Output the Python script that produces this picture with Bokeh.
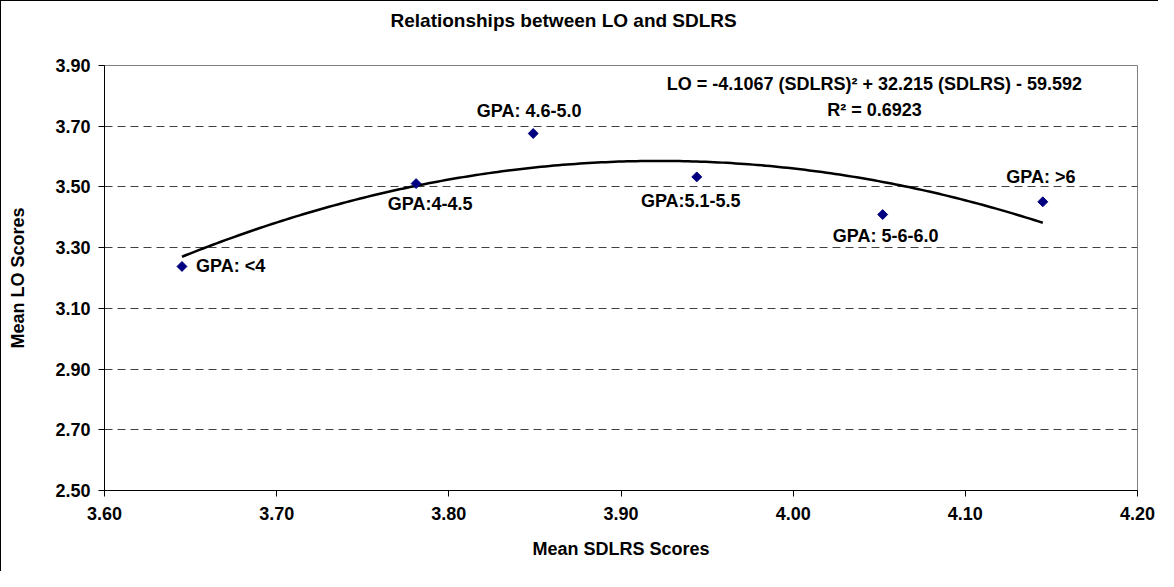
from bokeh.plotting import figure
from bokeh.models import Range1d, FixedTicker, NumeralTickFormatter, Label, ColumnDataSource, Title
from bokeh.embed import file_html
from bokeh.resources import INLINE
from bokeh.core.properties import value
import numpy as np

# ---- data ----
groups = ["GPA: <4", "GPA:4-4.5", "GPA: 4.6-5.0", "GPA:5.1-5.5", "GPA: 5-6-6.0", "GPA: >6"]
sdlrs = [3.645, 3.781, 3.849, 3.944, 4.052, 4.145]
lo = [3.238, 3.511, 3.676, 3.533, 3.409, 3.451]
trend_coef = [-4.1067, 32.215, -59.592]   # quadratic trendline as stated in the chart
r_squared = 0.6923
x_ticks = [3.60, 3.70, 3.80, 3.90, 4.00, 4.10, 4.20]
y_ticks = [2.50, 2.70, 2.90, 3.10, 3.30, 3.50, 3.70, 3.90]
title_text = "Relationships between LO and SDLRS"

FONT = "Liberation Sans"

p = figure(width=1158, height=571, output_backend="svg", toolbar_location=None,
           x_range=Range1d(3.60, 4.20), y_range=Range1d(2.50, 3.90),
           min_border_left=103, min_border_right=22, min_border_top=64, min_border_bottom=82)
p.styles = {"border-top": "1px solid #000", "border-left": "1px solid #000"}
p.outline_line_color = "#808080"
p.outline_line_width = 1

# spacer between frame and title
p.add_layout(Title(text=" ", text_font_size="12px", standoff=19), "above")

# title
p.title.text = title_text
p.title.align = "left"
p.title.offset = 286
p.title.standoff = 0
p.title.text_font = FONT
p.title.text_font_style = "bold"
p.title.text_font_size = "19px"
p.title.text_color = "#000000"

# axes
for ax in (p.xaxis[0], p.yaxis[0]):
    ax.axis_line_color = "#000000"
    ax.axis_line_width = 1
    ax.major_tick_line_color = "#000000"
    ax.major_tick_in = 0
    ax.major_tick_out = 6
    ax.minor_tick_line_color = None
    ax.major_label_text_font = FONT
    ax.major_label_text_font_style = "bold"
    ax.major_label_text_font_size = "18px"
    ax.major_label_text_color = "#000000"
    ax.axis_label_text_font = FONT
    ax.axis_label_text_font_style = "bold"
    ax.axis_label_text_font_size = "18px"
    ax.axis_label_text_color = "#000000"
    ax.formatter = NumeralTickFormatter(format="0.00")

p.xaxis.ticker = FixedTicker(ticks=x_ticks)
p.yaxis.ticker = FixedTicker(ticks=y_ticks)
p.xaxis.axis_label = "Mean SDLRS Scores"
p.yaxis.axis_label = "Mean LO Scores"
p.xaxis.major_label_standoff = 10
p.yaxis.major_label_standoff = 8
p.xaxis.axis_label_standoff = 16
p.yaxis.axis_label_standoff = 24

p.xgrid.grid_line_color = None
p.ygrid.grid_line_color = "#404040"
p.ygrid.grid_line_dash = "8 5"
p.ygrid.grid_line_width = 1

# trendline
tx = np.linspace(min(sdlrs), max(sdlrs), 200)
ty = np.polyval(trend_coef, tx)
p.line(tx, ty, line_color="#000000", line_width=2.5)

# points
p.scatter(sdlrs, lo, marker="square", size=7, angle=np.pi / 4,
          fill_color="#000080", line_color="#000080")

# point labels
src = ColumnDataSource(dict(
    x=sdlrs, y=lo, t=groups,
    xo=[14, 14, -4, -6, 3, -2],
    yo=[0, 20, -23, 24, 21, -25],
    al=["left", "center", "center", "center", "center", "center"],
))
p.text(x="x", y="y", text="t", x_offset="xo", y_offset="yo", text_align="al",
       text_baseline="middle", text_font=value(FONT), text_font_style="bold",
       text_font_size="18px", text_color="#000000", source=src)

# equation
eq = "LO = %.4f (SDLRS)\u00b2 + %.3f (SDLRS) - %.3f" % (trend_coef[0], trend_coef[1], -trend_coef[2])
p.add_layout(Label(x=4.0472, y=3.8407, text=eq, text_align="center", text_baseline="middle",
                   text_font=FONT, text_font_style="bold", text_font_size="18px", text_color="#000000"))
p.add_layout(Label(x=4.0472, y=3.7518, text="R\u00b2 = %.4f" % r_squared, text_align="center",
                   text_baseline="middle", text_font=FONT, text_font_style="bold",
                   text_font_size="18px", text_color="#000000"))

open("out.html", "w").write(file_html(p, INLINE))
